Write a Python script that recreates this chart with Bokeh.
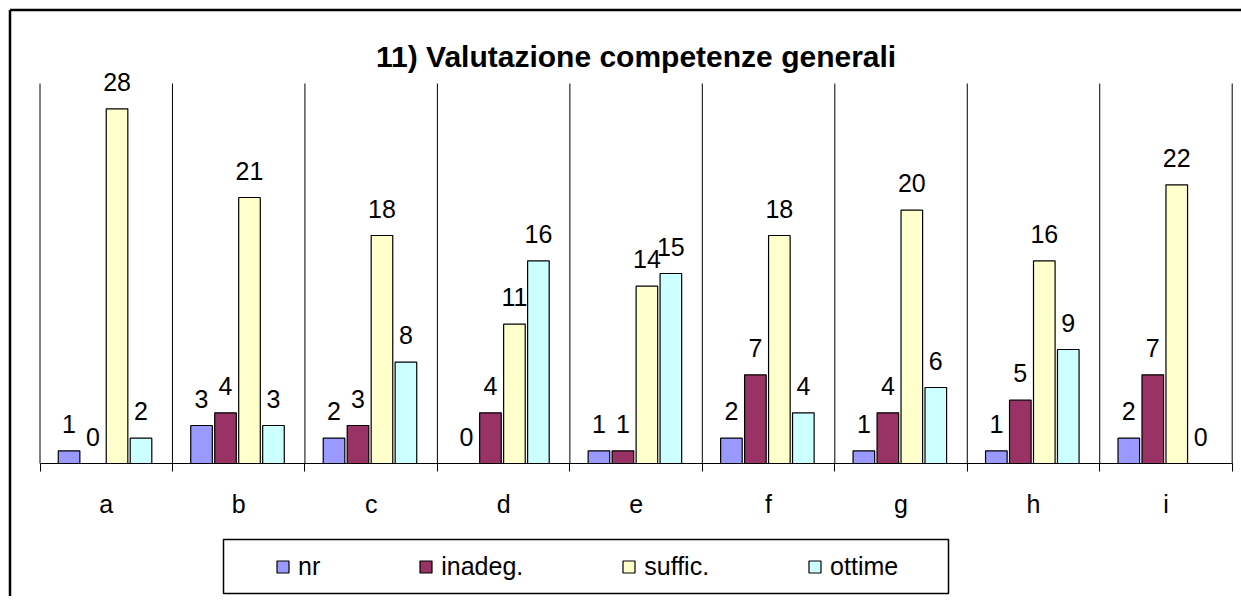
from bokeh.plotting import figure
from bokeh.models import (Range1d, FixedTicker, Legend, LegendItem, LabelSet, Label,
                          ColumnDataSource, BoxAnnotation)
from bokeh.core.properties import value
from bokeh.embed import file_html
from bokeh.resources import INLINE

# ---- data ----
categories = ["a", "b", "c", "d", "e", "f", "g", "h", "i"]
series_names = ["nr", "inadeg.", "suffic.", "ottime"]
nr = [1, 3, 2, 0, 1, 2, 1, 1, 2]
inadeg = [0, 4, 3, 4, 1, 7, 4, 5, 7]
suffic = [28, 21, 18, 11, 14, 18, 20, 16, 22]
ottime = [2, 3, 8, 16, 15, 4, 6, 9, 0]
colors = ["#9999FF", "#993366", "#FFFFCC", "#CCFFFF"]
title_text = "11) Valutazione competenze generali"
Y_MAX = 30

FONT = "Liberation Sans"
W, H = 1241, 596
n = len(categories)

# pixel layout of the plotting area inside the canvas
PX_LEFT, PX_RIGHT = 39.5, 1231.7     # x = 0 and x = n
PX_TOP, PX_AXIS = 83.0, 463.0         # y = Y_MAX and y = 0
PX_BORDER = 9.5                       # outer chart border (left / top)
sx = (PX_RIGHT - PX_LEFT) / n
sy = (PX_AXIS - PX_TOP) / Y_MAX
x_range = Range1d(-PX_LEFT / sx, n + (W - PX_RIGHT) / sx)
y_range = Range1d(-(H - PX_AXIS) / sy, Y_MAX + PX_TOP / sy)

p = figure(width=W, height=H, output_backend="svg", toolbar_location=None,
           x_range=x_range, y_range=y_range, y_axis_location=None,
           min_border=0, min_border_left=0, min_border_right=0,
           min_border_top=0, min_border_bottom=0,
           background_fill_color="white", border_fill_color="white",
           outline_line_color=None)
p.title.visible = False
p.grid.visible = False

# x axis at y = 0: labels at category centres, ticks at separators
centers = [i + 0.5 for i in range(n)]
seps = list(range(n + 1))
ax = p.xaxis[0]
ax.fixed_location = 0
ax.bounds = (0, n)
ax.ticker = FixedTicker(ticks=centers, minor_ticks=seps)
ax.major_label_overrides = {c: lab for c, lab in zip(centers, categories)}
ax.major_tick_line_color = None
ax.minor_tick_line_color = "black"
ax.minor_tick_out = 8
ax.minor_tick_in = 0
ax.axis_line_color = "black"
ax.axis_line_width = 1
ax.major_label_text_font = FONT
ax.major_label_text_font_size = "25px"
ax.major_label_text_color = "black"
ax.major_label_standoff = 18

# category separators
p.segment(x0=seps, y0=[0] * len(seps), x1=seps, y1=[Y_MAX] * len(seps),
          line_color="black", line_width=1)

# outer chart border (left and top edges only)
bx = x_range.start + PX_BORDER / sx
by = y_range.end - PX_BORDER / sy
p.segment(x0=[bx, bx], y0=[by, by], x1=[bx, x_range.end], y1=[y_range.start, by],
          line_color="black", line_width=2.5)

# bars + value labels
CENTER, STEP, BW = 0.491, 0.181, 0.163
all_series = [nr, inadeg, suffic, ottime]
renderers = []
for k, (vals, col) in enumerate(zip(all_series, colors)):
    off = CENTER + (k - 1.5) * STEP
    xs = [i + off for i in range(n)]
    src = ColumnDataSource(dict(x=xs, top=vals, lab=[str(v) for v in vals]))
    r = p.vbar(x="x", top="top", width=BW, bottom=0, source=src,
               fill_color=col, line_color="black", line_width=1.2)
    renderers.append(r)
    p.add_layout(LabelSet(x="x", y="top", text="lab", source=src,
                          text_align="center", text_baseline="alphabetic",
                          y_offset=18, text_font=value(FONT),
                          text_font_size=value("25px"), text_color="black"))

# title
p.add_layout(Label(x=n / 2, y=Y_MAX, text=title_text, text_align="center",
                   text_baseline="alphabetic", y_offset=27,
                   text_font=FONT, text_font_size="30px",
                   text_font_style="bold", text_color="black"))

# legend
legend = Legend(items=[LegendItem(label=nm, renderers=[r])
                       for nm, r in zip(series_names, renderers)],
                orientation="horizontal", location=(275, 20 - (601 - H)),
                border_line_color=None, background_fill_alpha=0,
                padding=0, margin=0, spacing=98, label_standoff=8,
                glyph_width=15, glyph_height=15,
                label_text_font=FONT, label_text_font_size="25px",
                label_text_color="black")
p.add_layout(legend)

# legend box (canvas coordinates)
p.add_layout(BoxAnnotation(left=223, right=948, top=539, bottom=593,
                           left_units="canvas", right_units="canvas",
                           top_units="canvas", bottom_units="canvas",
                           fill_color=None, fill_alpha=0,
                           line_color="black", line_width=1.5, line_alpha=1))

open("out.html", "w").write(file_html(p, INLINE))
